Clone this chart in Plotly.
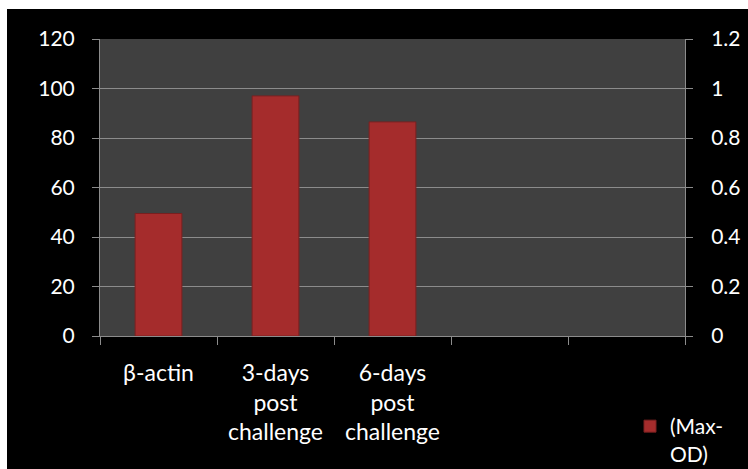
import plotly.graph_objects as go

categories = ["β-actin", "3-days<br>post<br>challenge", "6-days<br>post<br>challenge", " ", "  "]
values = [49.5, 97, 86.5, None, None]
series_name = "(Max-<br>OD)"
left_ticks = [0, 20, 40, 60, 80, 100, 120]
right_ticks = [0, 0.2, 0.4, 0.6, 0.8, 1.0, 1.2]
right_labels = ["0", "0.2", "0.4", "0.6", "0.8", "1", "1.2"]

W, H = 748, 469
L, R, T, B = 100, 63, 39, 133
pw, ph = W - L - R, H - T - B

def px_x(p):
    return (p - L) / pw

def px_y(p):
    return (H - B - p) / ph

font = dict(family="Lato, 'Open Sans', sans-serif", size=21, color="white")
xfont = dict(family="Lato, 'Open Sans', sans-serif", size=23, color="white")

fig = go.Figure()
fig.add_trace(go.Bar(
    x=categories, y=values, name=series_name,
    marker=dict(color="#a52c2c", line=dict(color="#7a2020", width=1)),
    width=0.4, showlegend=True,
))
fig.add_trace(go.Scatter(
    x=[categories[0]], y=[None], yaxis="y2", mode="markers",
    showlegend=False, hoverinfo="skip",
))

grid = "#8c8c8c"
fig.update_layout(
    width=W, height=H,
    margin=dict(l=L, r=R, t=T, b=B, autoexpand=False),
    paper_bgcolor="white",
    plot_bgcolor="#404040",
    font=font,
    bargap=0.6,
    xaxis=dict(
        type="category", tickson="boundaries", ticks="outside", ticklen=8,
        tickcolor=grid, showline=True, linecolor=grid, linewidth=1,
        showgrid=False, tickfont=xfont, range=[-0.5, 4.5],
        ticklabelstandoff=16,
    ),
    yaxis=dict(
        range=[0, 120], tickvals=left_ticks, ticks="outside", ticklen=7,
        tickcolor=grid, showline=True, linecolor=grid, gridcolor=grid,
        gridwidth=1, tickfont=font, zeroline=False, ticklabelstandoff=13,
    ),
    yaxis2=dict(
        overlaying="y", side="right", range=[0, 1.2], tickvals=right_ticks,
        ticktext=right_labels, ticks="outside", ticklen=7, tickcolor=grid,
        showline=True, linecolor=grid, showgrid=False, tickfont=font,
        zeroline=False, ticklabelstandoff=14,
    ),
    legend=dict(
        x=px_x(630), y=px_y(406), xanchor="left", yanchor="top",
        bgcolor="rgba(0,0,0,0)", font=font, itemwidth=30, valign="top",
    ),
    shapes=[
        dict(type="rect", xref="paper", yref="paper", layer="below",
             x0=px_x(7), x1=px_x(W + 5), y0=px_y(H + 5), y1=px_y(9),
             fillcolor="black", line=dict(width=0)),
        dict(type="rect", xref="paper", yref="paper", layer="below",
             x0=0, x1=1, y0=0, y1=1,
             fillcolor="#404040", line=dict(width=0)),
    ],
)

fig.write_html("out.html")
